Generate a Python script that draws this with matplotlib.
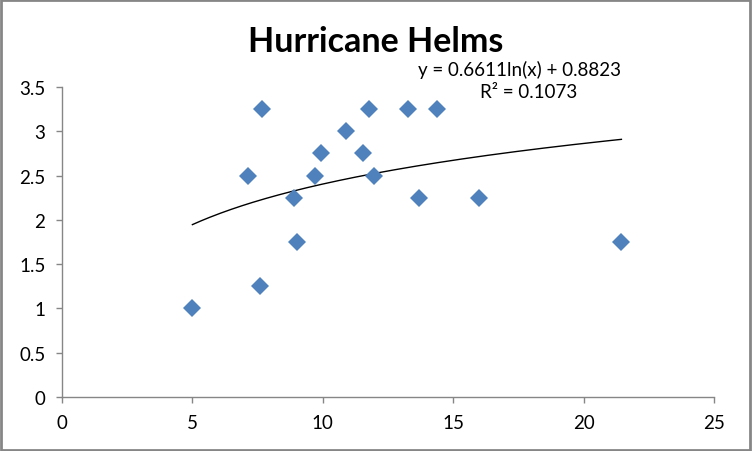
import numpy as np
import matplotlib.pyplot as plt
from matplotlib.patches import Rectangle
from matplotlib.ticker import FuncFormatter

# data
x_vals = [5.0, 7.13, 7.59, 7.67, 8.90, 9.01, 9.70, 9.92, 10.88,
          11.53, 11.76, 11.95, 13.27, 13.68, 14.37, 15.99, 21.45]
y_vals = [1.0, 2.5, 1.25, 3.25, 2.25, 1.75, 2.5, 2.75, 3.0,
          2.75, 3.25, 2.5, 3.25, 2.25, 3.25, 2.25, 1.75]
fit_a = 0.6611
fit_b = 0.8823
r_squared = 0.1073
title = "Hurricane Helms"

plt.rcParams['font.family'] = ['Lato', 'DejaVu Sans']

fig = plt.figure(figsize=(7.52, 4.52), dpi=100)
ax = fig.add_axes([62/752, 54/452, 652/752, 310/452])

ax.plot(x_vals, y_vals, 'D', color='#4f81bd', ms=9.5, mew=0, zorder=3)

xs = np.linspace(min(x_vals), max(x_vals), 200)
ax.plot(xs, fit_a*np.log(xs) + fit_b, '-', color='black', lw=1.0, zorder=2)

ax.set_xlim(0, 25)
ax.set_ylim(0, 3.5)
ax.set_xticks(np.arange(0, 26, 5))
ax.set_yticks(np.arange(0, 3.51, 0.5))
ax.yaxis.set_major_formatter(FuncFormatter(lambda v, p: ('%g' % v)))

for s in ['top', 'right']:
    ax.spines[s].set_visible(False)
for s in ['left', 'bottom']:
    ax.spines[s].set_color('#868686')
    ax.spines[s].set_linewidth(1.0)
ax.tick_params(axis='both', direction='out', length=4, width=1,
               color='#868686', labelsize=13.5, labelcolor='black')
ax.tick_params(axis='x', pad=8)
ax.tick_params(axis='y', pad=8)

fig.text(0.5, 1 - 42/452, title, ha='center', va='center',
         fontsize=24.5, fontweight='bold')
fig.text(519/752, 1 - 70/452, 'y = %.4fln(x) + %.4f' % (fit_a, fit_b),
         ha='center', va='center', fontsize=13.5)
fig.text(529/752, 1 - 93/452, 'R² = %.4f' % r_squared,
         ha='center', va='center', fontsize=13.5)

fig.patches.append(Rectangle((0.001, 0.002), 0.997, 0.995, transform=fig.transFigure,
                             fill=False, edgecolor='#868686', lw=2))

fig.savefig('out.png', dpi=100)
